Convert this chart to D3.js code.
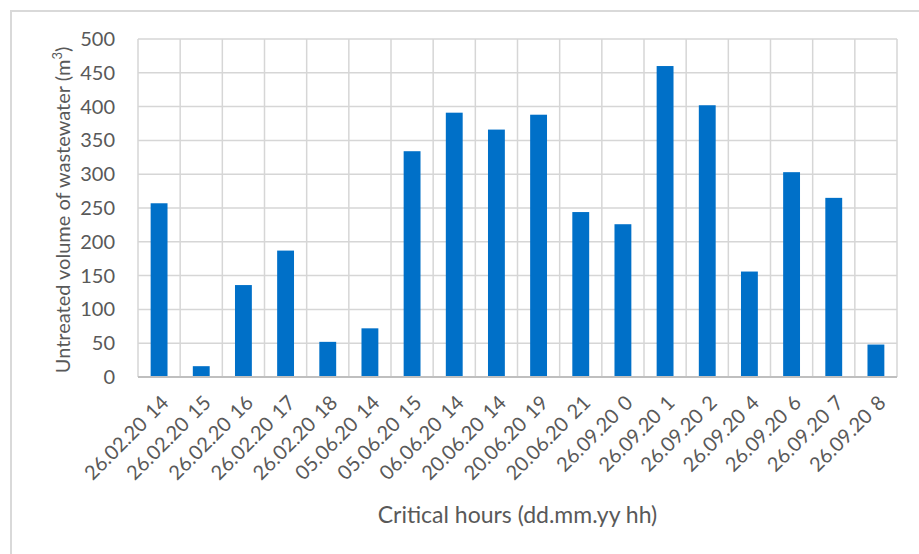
<!DOCTYPE html>
<html>
<head>
<meta charset="utf-8">
<script src="https://cdn.jsdelivr.net/npm/d3@7/dist/d3.min.js"></script>
<style>
  html, body { margin: 0; padding: 0; background: #fff; }
  svg { display: block; }
  text { font-family: Lato, "Open Sans", sans-serif; fill: #595959; }
</style>
</head>
<body>
<svg id="chart" width="919" height="554"></svg>
<script>
// Critical hours (dd.mm.yy hh) and untreated overflow volume per hour
const categories = [
  "26.02.20 14", "26.02.20 15", "26.02.20 16", "26.02.20 17", "26.02.20 18",
  "05.06.20 14", "05.06.20 15", "06.06.20 14", "20.06.20 14", "20.06.20 19",
  "20.06.20 21", "26.09.20 0", "26.09.20 1", "26.09.20 2", "26.09.20 4",
  "26.09.20 6", "26.09.20 7", "26.09.20 8"
];
const volumes = [257, 16, 136, 187, 52, 72, 334, 391, 366, 388, 244, 226, 460, 402, 156, 303, 265, 48];
const yTicks = [0, 50, 100, 150, 200, 250, 300, 350, 400, 450, 500];

const svg = d3.select("#chart");
const margin = { left: 138, right: 22, top: 39, bottom: 177 };
const W = 919, H = 554;
const x0 = margin.left, x1 = W - margin.right;
const y0 = H - margin.bottom, y1 = margin.top;

// outer chart-area frame
svg.append("rect")
  .attr("x", 11).attr("y", 11)
  .attr("width", 940).attr("height", 600)
  .attr("fill", "none").attr("stroke", "#d9d9d9").attr("stroke-width", 2);

const x = d3.scaleBand().domain(categories).range([x0, x1]).paddingInner(0.6).paddingOuter(0.3);
const xGrid = d3.scaleBand().domain(categories).range([x0, x1]);
const y = d3.scaleLinear().domain([0, 500]).range([y0, y1]);

// horizontal gridlines
svg.append("g").selectAll("line").data(yTicks).join("line")
  .attr("x1", x0).attr("x2", x1)
  .attr("y1", d => y(d)).attr("y2", d => y(d))
  .attr("stroke", "#d6d6d6").attr("stroke-width", 1.5);

// vertical gridlines at category boundaries
const bounds = categories.map(c => xGrid(c)).concat([x1]);
svg.append("g").selectAll("line").data(bounds).join("line")
  .attr("x1", d => d).attr("x2", d => d)
  .attr("y1", y1).attr("y2", y0)
  .attr("stroke", "#d6d6d6").attr("stroke-width", 1.5);

// bars
svg.append("g").selectAll("rect").data(volumes).join("rect")
  .attr("x", (d, i) => x(categories[i]))
  .attr("width", x.bandwidth())
  .attr("y", d => y(d))
  .attr("height", d => y0 - y(d))
  .attr("fill", "#0070c8");

// baseline
svg.append("line")
  .attr("x1", x0).attr("x2", x1).attr("y1", y0).attr("y2", y0)
  .attr("stroke", "#bfbfbf").attr("stroke-width", 2);

// y axis labels
const yAxis = d3.axisLeft(y).tickValues(yTicks).tickSize(0).tickPadding(23);
const gy = svg.append("g").attr("transform", `translate(${x0},0)`).call(yAxis);
gy.select(".domain").remove();
gy.selectAll("text").attr("font-size", 20).style("font-family", "Lato, sans-serif").attr("fill", "#595959");

// x axis labels, rotated
const xAxis = d3.axisBottom(xGrid).tickSize(0).tickPadding(0);
const gx = svg.append("g").attr("transform", `translate(0,${y0})`).call(xAxis);
gx.select(".domain").remove();
gx.selectAll("text")
  .attr("font-size", 20)
  .style("font-family", "Lato, sans-serif")
  .style("word-spacing", "2px")
  .attr("fill", "#595959")
  .attr("text-anchor", "end")
  .attr("dy", "0.35em")
  .attr("y", 0)
  .attr("transform", "translate(6,22) rotate(-45)");

// axis titles
svg.append("text")
  .attr("x", (x0 + x1) / 2).attr("y", 523)
  .attr("text-anchor", "middle").attr("font-size", 23)
  .text("Critical hours (dd.mm.yy hh)");

svg.append("text")
  .attr("transform", `translate(70,${(y0 + y1) / 2 + 2}) rotate(-90)`)
  .attr("text-anchor", "middle").attr("font-size", 20)
  .text("Untreated volume of wastewater (m")
  .append("tspan").attr("baseline-shift", "super").attr("font-size", 13).text("3")
  .select(function() { return this.parentNode; })
  .append("tspan").text(")");
</script>
</body>
</html>
